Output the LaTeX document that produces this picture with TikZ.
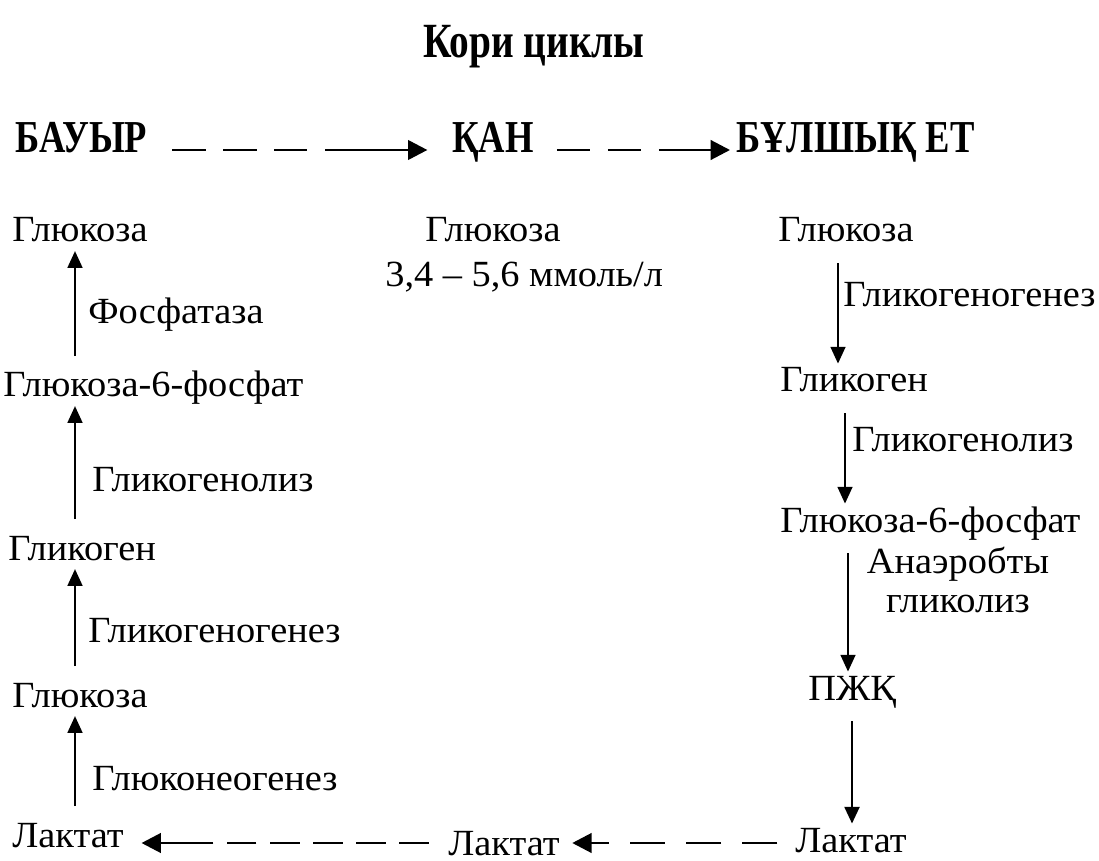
\documentclass[tikz,border=0pt]{standalone}
\usepackage{fontspec}
\setmainfont{Liberation Serif}[FakeStretch=1.04]
\newfontfamily\headfont{Liberation Serif}[FakeStretch=0.8]
\usetikzlibrary{arrows.meta,calc}

\tikzset{
  lbl/.style={inner sep=0pt, anchor=base west, font=\fontsize{21}{24}\selectfont, text height=15pt, text depth=4pt},
  hdr/.style={inner sep=0pt, anchor=base west, font=\headfont\bfseries\fontsize{26}{30}\selectfont},
  flow/.style={line width=0.9pt, -{Triangle[width=8.5pt,length=9.5pt]}, shorten >=1pt, shorten <=8pt},
  route/.style={line width=1.7pt, -{Triangle[width=11pt,length=11pt]}},
}

\begin{document}
\begin{tikzpicture}[x=0.02cm, y=-0.02cm]
    \useasboundingbox (0,0) rectangle (1099,861);

    \node[hdr, anchor=base, font=\headfont\bfseries\fontsize{28}{32}\selectfont] (title) at (534,58) {Кори циклы};

    \node[hdr] (bauyr) at (15,153) {БАУЫР};
    \node[hdr] (qan) at (452,153) {ҚАН};
    \node[hdr] (bulshyq) at (736,153) {БҰЛШЫҚ ЕТ};

    \coordinate (hy) at (0,150);
    \coordinate (by) at (0,843);
    \draw[route, dash pattern=on 19pt off 10pt on 19pt off 10pt on 19pt off 10pt on 200pt,
          shorten <=14pt, shorten >=14pt] (bauyr.east |- hy) -- (qan.west |- hy);
    \draw[route, dash pattern=on 19pt off 10pt on 19pt off 10pt on 200pt,
          shorten <=13pt, shorten >=3.4pt] (qan.east |- hy) -- (bulshyq.west |- hy);

    % bauyr
    \begin{scope}
      \coordinate (lx) at (75,0);
      \node[lbl] (lglc1) at (12,242) {Глюкоза};
      \node[lbl] (lfos) at (88,324) {Фосфатаза};
      \node[lbl] (lg6f) at (3,397) {Глюкоза-6-фосфат};
      \node[lbl] (llis) at (92,492) {Гликогенолиз};
      \node[lbl] (lglg) at (8,560) {Гликоген};
      \node[lbl] (lgen) at (88,642) {Гликогеногенез};
      \node[lbl] (lglc2) at (12,707) {Глюкоза};
      \node[lbl] (lneo) at (92,790) {Глюконеогенез};
      \node[lbl] (llak) at (12,847) {Лактат};
      \draw[flow] (lg6f.north -| lx) -- (lglc1.south -| lx);
      \draw[flow] (lglg.north -| lx) -- (lg6f.south -| lx);
      \draw[flow] (lglc2.north -| lx) -- (lglg.south -| lx);
      \draw[flow] (llak.north -| lx) -- (lglc2.south -| lx);
    \end{scope}

    % qan
    \node[lbl] (mglc) at (425,242) {Глюкоза};
    \node[lbl] (mmol) at (385,287) {3,4 – 5,6 ммоль/л};
    \node[lbl, text depth=0pt] (mlak) at (448,855) {Лактат};

    % bulshyq et
    \begin{scope}
      \coordinate (rx1) at (838,0);
      \coordinate (rx2) at (845,0);
      \coordinate (rx3) at (848,0);
      \coordinate (rx4) at (852,0);
      \node[lbl] (rglc) at (778,242) {Глюкоза};
      \node[lbl] (rgen) at (843,307) {Гликогеногенез};
      \node[lbl] (rglg) at (780,392) {Гликоген};
      \node[lbl] (rlis) at (852,452) {Гликогенолиз};
      \node[lbl] (rg6f) at (780,532) {Глюкоза-6-фосфат};
      \node[lbl, anchor=base, align=center] (rana) at (958,612) {Анаэробты\\[-2pt]гликолиз};
      \node[lbl] (rpjq) at (808,700) {ПЖҚ};
      \node[lbl] (rlak) at (795,852) {Лактат};
      \draw[flow] (rglc.south -| rx1) -- (rglg.north -| rx1);
      \draw[flow] (rglg.south -| rx2) -- (rg6f.north -| rx2);
      \draw[flow] (rg6f.south -| rx3) -- (rpjq.north -| rx3);
      \draw[flow, line width=1.4pt] (rpjq.south -| rx4) -- (rlak.north -| rx4);
    \end{scope}

    \draw[route, dash pattern=on 20pt off 12pt on 20pt off 12pt on 20pt off 12pt on 200pt,
          shorten <=10pt, shorten >=7pt] (rlak.west |- by) -- (mlak.east |- by);
    \draw[route, dash pattern=on 17pt off 7.5pt on 17pt off 7.5pt on 17pt off 7.5pt on 17pt off 7.5pt on 17pt off 7.5pt on 200pt,
          shorten <=11pt, shorten >=10pt] (mlak.west |- by) -- (llak.east |- by);

\end{tikzpicture}
\end{document}
